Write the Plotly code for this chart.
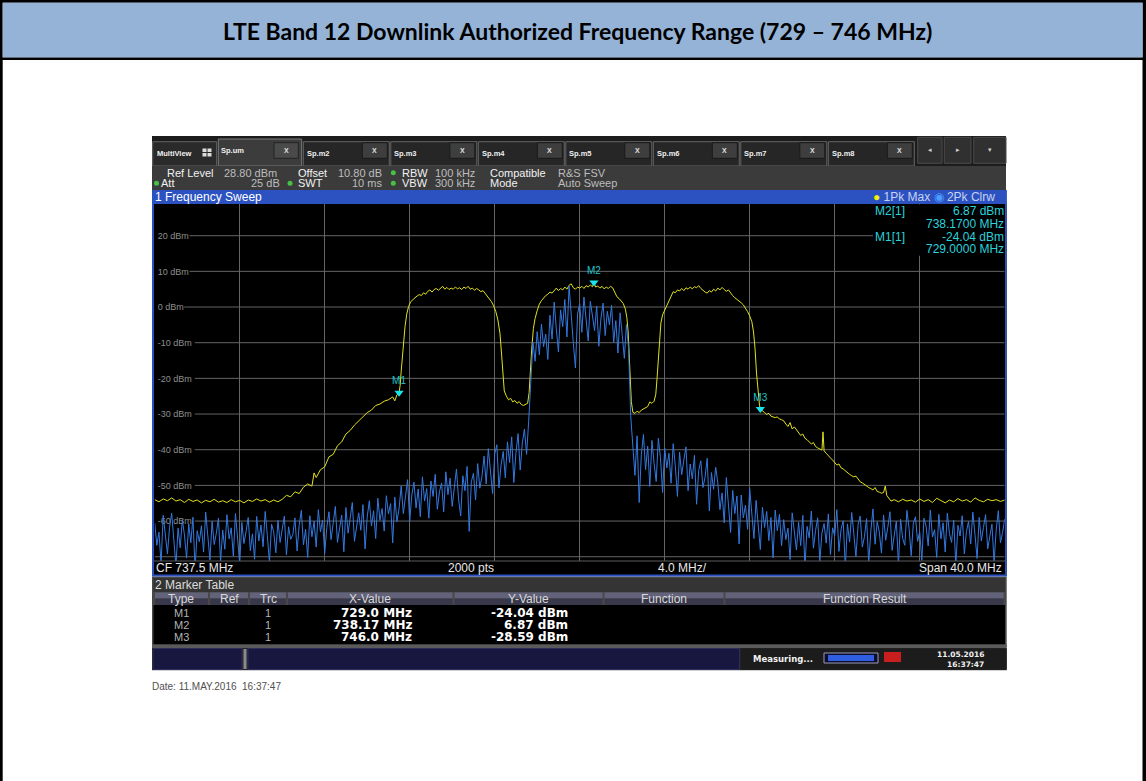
"""
LTE Band 12 downlink - spectrum analyzer screen rebuilt with Plotly.

Two traces from the R&S FSV screenshot:
  - 1Pk Max  (yellow, max hold)
  - 2Pk Clrw (blue, clear/write)
plus the three markers, the marker table and the analyzer chrome.
"""

import plotly.graph_objects as go

# ===================================================================
# Data
# ===================================================================

CENTER_MHZ = 737.5
SPAN_MHZ = 40.0
REF_LEVEL_DBM = 28.8
RANGE_DB = 100.0
SWEEP_POINTS = 2000

# trace 1 - 1Pk Max (yellow)
MAX_FREQ = [
    717.5, 717.7, 717.9, 718.1, 718.3, 718.5, 718.7, 718.9, 719.1, 719.3,
    719.5, 719.7, 719.9, 720.1, 720.3, 720.5, 720.7, 720.9, 721.1, 721.3,
    721.5, 721.7, 721.9, 722.1, 722.3, 722.5, 722.7, 722.9, 723.1, 723.3,
    723.5, 723.7, 723.9, 724.1, 724.3, 724.5, 724.7, 724.9, 725.0, 725.1,
    725.3, 725.5, 725.7, 725.9, 726.1, 726.3, 726.5, 726.7, 726.9, 727.1,
    727.3, 727.5, 727.7, 727.9, 728.1, 728.3, 728.5, 728.7, 728.8, 728.9,
    729.0, 729.05, 729.1, 729.2, 729.28, 729.36, 729.45, 729.55, 729.65, 729.75,
    729.85, 729.95, 730.05, 730.15, 730.25, 730.35, 730.45, 730.55, 730.65, 730.75,
    730.85, 730.95, 731.05, 731.15, 731.25, 731.35, 731.45, 731.55, 731.65, 731.75,
    731.85, 731.95, 732.05, 732.15, 732.25, 732.35, 732.45, 732.55, 732.65, 732.75,
    732.85, 732.95, 733.05, 733.15, 733.25, 733.35, 733.45, 733.55, 733.65, 733.75,
    733.82, 733.88, 733.95, 734.05, 734.15, 734.25, 734.35, 734.45, 734.55, 734.65,
    734.75, 734.85, 734.95, 735.05, 735.12, 735.18, 735.24, 735.32, 735.4, 735.5,
    735.6, 735.7, 735.8, 735.9, 736.0, 736.1, 736.2, 736.3, 736.4, 736.5,
    736.6, 736.7, 736.8, 736.9, 737.0, 737.1, 737.2, 737.3, 737.4, 737.5,
    737.6, 737.7, 737.8, 737.9, 738.0, 738.1, 738.17, 738.25, 738.35, 738.45,
    738.55, 738.65, 738.75, 738.85, 738.95, 739.05, 739.15, 739.25, 739.35, 739.45,
    739.55, 739.65, 739.72, 739.78, 739.83, 739.88, 739.93, 740.0, 740.1, 740.2,
    740.3, 740.4, 740.5, 740.6, 740.7, 740.8, 740.9, 741.0, 741.08, 741.14,
    741.2, 741.26, 741.32, 741.4, 741.5, 741.6, 741.7, 741.8, 741.9, 742.0,
    742.1, 742.2, 742.3, 742.4, 742.5, 742.6, 742.7, 742.8, 742.9, 743.0,
    743.1, 743.2, 743.3, 743.4, 743.5, 743.6, 743.7, 743.8, 743.9, 744.0,
    744.1, 744.2, 744.3, 744.4, 744.5, 744.6, 744.7, 744.8, 744.9, 745.0,
    745.1, 745.2, 745.3, 745.4, 745.5, 745.6, 745.68, 745.75, 745.82, 745.9,
    745.96, 746.0, 746.1, 746.2, 746.3, 746.4, 746.5, 746.6, 746.7, 746.8,
    746.9, 747.0, 747.1, 747.2, 747.3, 747.4, 747.5, 747.6, 747.7, 747.8,
    747.9, 748.0, 748.1, 748.2, 748.3, 748.4, 748.5, 748.6, 748.7, 748.8,
    748.9, 748.95, 749.0, 749.1, 749.2, 749.3, 749.4, 749.5, 749.6, 749.7,
    749.8, 749.9, 750.0, 750.1, 750.2, 750.3, 750.4, 750.5, 750.6, 750.7,
    750.8, 750.9, 751.0, 751.1, 751.2, 751.3, 751.4, 751.5, 751.6, 751.7,
    751.8, 751.88, 751.95, 752.05, 752.15, 752.3, 752.5, 752.7, 752.9, 753.1,
    753.3, 753.5, 753.7, 753.9, 754.1, 754.3, 754.5, 754.7, 754.9, 755.1,
    755.3, 755.5, 755.7, 755.9, 756.1, 756.3, 756.5, 756.7, 756.9, 757.1,
    757.3, 757.5,
]
MAX_LEVEL = [
    -54.0, -54.6, -53.8, -54.3, -53.5, -54.4, -54.0, -54.8, -53.9, -54.5,
    -54.1, -54.9, -54.2, -54.6, -53.9, -54.7, -54.3, -54.8, -54.0, -54.6,
    -54.2, -54.9, -54.1, -54.5, -53.8, -54.4, -54.0, -54.7, -54.1, -54.6,
    -53.9, -52.8, -53.2, -51.8, -52.3, -50.5, -49.6, -50.2, -46.5, -47.8,
    -45.6, -44.8, -42.0, -41.3, -38.9, -37.8, -35.6, -34.6, -33.1, -32.0,
    -30.8, -29.6, -28.9, -27.6, -27.2, -26.4, -26.0, -25.2, -26.3, -24.6,
    -24.04, -22.0, -18.0, -10.0, -5.5, -2.0, 0.2, 1.5, 2.2, 2.6,
    3.1, 3.5, 3.2, 4.0, 3.6, 4.4, 4.8, 4.2, 4.9, 5.2,
    4.7, 5.4, 5.8, 5.0, 5.5, 4.9, 5.3, 5.0, 5.6, 5.1,
    5.4, 4.9, 5.6, 5.2, 5.8, 5.0, 5.3, 4.7, 5.2, 4.8,
    4.3, 4.6, 3.8, 3.0, 2.2, 1.5, 0.3, -1.2, -3.6, -7.5,
    -12.9, -19.0, -23.5, -25.0, -26.0, -25.6, -26.6, -26.2, -27.0, -26.5,
    -27.3, -27.6, -27.4, -27.0, -24.0, -17.0, -12.0, -6.0, -3.2, -1.0,
    0.8, 1.8, 2.6, 3.2, 3.6, 4.2, 3.9, 4.7, 5.3, 4.6,
    5.2, 4.8, 5.6, 5.0, 6.1, 6.5, 5.4, 5.0, 5.6, 5.3,
    5.8, 5.2, 6.0, 5.6, 6.2, 5.7, 6.87, 5.6, 5.9, 5.3,
    5.8, 5.1, 5.6, 5.2, 5.8, 5.4, 4.2, 2.9, 2.4, 1.6,
    1.0, -0.6, -3.0, -7.0, -13.0, -21.0, -26.5, -29.5, -29.8, -29.2,
    -29.6, -28.9, -28.6, -28.2, -27.9, -26.6, -27.0, -26.4, -24.5, -20.0,
    -15.0, -9.0, -4.5, -2.2, -0.9, 0.1, 1.8, 3.1, 4.3, 4.0,
    4.8, 4.5, 5.2, 4.6, 5.4, 5.0, 5.6, 5.1, 5.7, 5.4,
    6.0, 5.2, 4.6, 4.2, 3.9, 4.6, 4.2, 5.0, 4.5, 5.3,
    4.8, 5.5, 4.9, 4.4, 4.8, 3.9, 3.2, 2.6, 2.2, 1.6,
    1.2, 0.6, -0.2, -1.3, -2.5, -4.1, -7.0, -11.5, -18.5, -24.5,
    -27.5, -28.59, -29.2, -29.6, -30.1, -29.8, -30.6, -30.7, -31.0, -30.8,
    -31.4, -31.6, -31.9, -32.8, -33.5, -32.4, -34.2, -33.6, -34.5, -35.3,
    -36.0, -35.6, -36.8, -37.2, -37.8, -38.4, -38.0, -39.1, -39.5, -39.9,
    -40.1, -35.0, -40.3, -41.0, -41.8, -42.3, -42.9, -43.5, -44.3, -44.0,
    -45.1, -45.4, -46.0, -46.3, -46.9, -47.3, -47.6, -47.4, -48.4, -49.0,
    -49.3, -49.8, -50.2, -50.6, -50.9, -51.3, -50.6, -51.7, -51.9, -52.2,
    -52.0, -50.2, -52.8, -53.6, -54.4, -54.0, -54.6, -53.9, -54.4, -54.1,
    -54.7, -53.8, -54.5, -54.0, -54.8, -53.6, -54.3, -54.9, -54.1, -54.6,
    -53.7, -54.4, -54.0, -54.7, -53.5, -54.2, -54.6, -53.9, -54.3, -54.0,
    -54.5, -54.1,
]

# trace 2 - 2Pk Clrw (blue), one reading every 0.1 MHz from the left edge
CLRW_STEP_MHZ = 0.1
CLRW_LEVEL = [
    # noise floor 717.5 - 723.9
    -60.5, -66.8, -63.1, -71.9, -58.4, -64.6, -69.2, -61.7, -57.8, -65.3,
    -72.6, -62.0, -67.5, -59.6, -63.9, -70.4, -60.8, -66.1, -58.9, -73.5,
    -62.7, -65.8, -61.3, -68.7, -57.5, -64.2, -70.9, -60.1, -66.6, -63.4,
    -59.2, -71.4, -62.5, -67.9, -58.2, -65.0, -61.9, -69.8, -57.9, -64.8,
    -72.0, -60.4, -66.3, -62.9, -59.0, -68.3, -63.6, -70.7, -58.7, -65.6,
    -61.1, -67.2, -57.3, -64.0, -71.6, -60.9, -63.0, -68.9, -59.8, -66.0,
    -62.2, -58.6, -69.5, -61.6, -65.1,
    # slow rise 724.0 - 729.0
    -63.8, -59.1, -68.4, -61.2, -57.0, -66.7, -62.3, -70.2, -58.5, -64.4,
    -60.0, -67.3, -56.8, -63.0, -59.7, -69.1, -61.8, -57.4, -65.2, -60.6,
    -55.9, -66.0, -62.1, -58.3, -68.6, -56.2, -63.4, -59.5, -54.8, -65.7,
    -60.9, -57.7, -62.6, -55.4, -67.8, -58.9, -54.3, -61.4, -57.1, -64.9,
    -53.6, -59.8, -56.5, -62.8, -52.9, -58.0, -55.1, -66.1, -53.3, -60.2,
    -56.4,
    # lower skirt 729.1 - 735.1
    -50.2, -57.9, -53.6, -48.4, -60.1, -52.7, -49.1, -56.3, -51.0, -58.8,
    -47.6, -54.4, -50.9, -59.2, -48.8, -53.1, -46.9, -56.7, -51.8, -49.3,
    -57.4, -46.2, -52.6, -48.0, -55.9, -50.4, -45.4, -53.8, -58.6, -47.3,
    -51.5, -44.7, -62.9, -49.0, -46.6, -54.1, -43.9, -50.8, -47.5, -41.8,
    -49.6, -39.7, -46.0, -52.3, -41.2, -38.6, -50.7, -44.3, -40.5, -47.9,
    -37.8, -43.6, -36.4, -49.2, -40.9, -35.5, -45.7, -38.1, -34.2, -41.3,
    -32.0,
    # occupied channel 735.2 - 739.8
    -19.5, -9.8, -15.2, -6.9, -13.4, -4.8, -11.1, -7.6, -14.7, -2.3,
    -9.0, 1.4, -6.2, -12.6, -0.8, -5.5, 2.1, -8.4, 5.9, -3.7,
    -10.2, -17.1, -1.9, 0.9, -7.1, 2.8, -4.4, -9.5, 1.6, -2.8,
    -6.6, 0.3, -11.0, -3.1, 1.1, -8.0, -1.2, -5.0, 0.5, -9.9,
    -3.8, -12.9, -1.6, -7.7, -14.4, -4.9, -11.6,
    # upper skirt 739.9 - 743.9
    -30.5, -38.9, -47.2, -36.1, -54.8, -41.4, -35.7, -45.6, -39.0, -50.3,
    -37.4, -43.8, -48.9, -36.8, -42.2, -52.0, -39.5, -45.1, -41.0, -49.4,
    -38.3, -44.6, -53.1, -40.7, -47.0, -42.9, -39.2, -51.5, -44.0, -48.2,
    -41.6, -55.3, -45.8, -43.1, -50.6, -47.7, -42.4, -57.2, -46.4, -51.1,
    -44.9,
    # fall 744.0 - 747.0
    -49.3, -56.8, -52.1, -60.5, -47.8, -54.6, -63.2, -51.4, -57.9, -53.0,
    -66.4, -52.7, -59.1, -55.5, -62.3, -50.9, -58.4, -64.9, -54.2, -60.7,
    -68.0, -56.1, -61.8, -57.3, -65.5, -59.0, -70.3, -56.9, -62.7, -58.1,
    -66.9,
    # noise floor 747.1 - 757.5
    -59.6, -65.2, -62.0, -70.8, -57.7, -63.9, -68.1, -60.3, -66.9, -58.4,
    -72.9, -61.5, -64.7, -57.2, -67.6, -62.6, -59.1, -71.3, -63.3, -60.7,
    -66.2, -58.0, -69.4, -61.9, -64.1, -56.8, -68.5, -62.3, -59.9, -73.1,
    -60.8, -65.9, -57.6, -63.6, -70.0, -61.0, -58.6, -67.3, -64.4, -59.3,
    -71.8, -62.8, -56.6, -66.5, -60.2, -63.1, -69.0, -58.3, -65.4, -61.7,
    -57.4, -68.2, -63.8, -60.0, -72.2, -59.5, -64.9, -66.8, -57.0, -62.1,
    -69.7, -60.6, -58.8, -65.7, -63.0, -71.0, -59.2, -61.4, -67.0, -56.9,
    -64.5, -62.4, -70.2, -58.1, -65.0, -60.5, -68.7, -57.8, -63.5, -66.0,
    -59.7, -72.4, -61.2, -64.2, -58.5, -69.2, -62.9, -60.1, -66.4, -57.5,
    -63.7, -70.5, -59.0, -65.6, -61.8, -58.2, -67.8, -64.6, -60.9, -71.5,
    -62.5, -57.1, -66.1, -63.2, -59.4,
]

MARKER_NAMES = ["M1", "M2", "M3"]
MARKER_FREQ = [729.0, 738.17, 746.0]
MARKER_LEVEL = [-24.04, 6.87, -28.59]

GRID_DBM = [20, 10, 0, -10, -20, -30, -40, -50, -60, -70]
GRID_LABELS = ["20 dBm", "10 dBm", "0 dBm", "-10 dBm", "-20 dBm",
               "-30 dBm", "-40 dBm", "-50 dBm", "-60 dBm", ""]

TAB_NAMES = ["Sp.m2", "Sp.m3", "Sp.m4", "Sp.m5", "Sp.m6", "Sp.m7", "Sp.m8"]
TABLE_COLUMNS = ["Type", "Ref", "Trc", "X-Value", "Y-Value", "Function", "Function Result"]

# ===================================================================
# Page helpers (pixel coordinates of the 1146 x 781 page)
# ===================================================================

W, H = 1146, 781
UI = "Liberation Sans"
UIB = "DejaVu Sans"

shapes = []
notes = []


def px(x):
    return x / W


def py(y):
    return 1 - y / H


def box(x0, y0, x1, y1, fill, line=None, width=0, layer="below"):
    shapes.append(dict(type="rect", xref="paper", yref="paper",
                       x0=px(x0), x1=px(x1), y0=py(y1), y1=py(y0),
                       fillcolor=fill, layer=layer,
                       line=dict(color=line or fill, width=width)))


def dot(x, y, r, fill):
    shapes.append(dict(type="circle", xref="paper", yref="paper",
                       x0=px(x - r), x1=px(x + r), y0=py(y + r), y1=py(y - r),
                       fillcolor=fill, line=dict(width=0), layer="below"))


def label(x, y, s, size=11, color="#e0e0e0", anchor="left", family=UI):
    notes.append(dict(xref="paper", yref="paper", x=px(x), y=py(y), text=s,
                      showarrow=False, xanchor=anchor, yanchor="middle",
                      borderpad=0, borderwidth=0,
                      font=dict(size=size, color=color, family=family)))


def fmt_freq(v):
    s = f"{v:.2f}"
    return s[:-1] if s.endswith("0") else s


# ===================================================================
# Document frame + title band
# ===================================================================

box(0, 0, 2.7, H, "black")
box(1142.5, 0, W, H, "black")
box(0, 0, W, 2.7, "black")
box(2.7, 2.7, 1142.5, 57.5, "#95b3d7")
box(0, 57.5, W, 60, "black")
label(577, 31.5, "<b>LTE Band 12 Downlink Authorized Frequency Range (729 \u2013 746 MHz)</b>",
      23, "#000000", "center", "Lato")

# ===================================================================
# Analyzer chrome: tabs, settings, title bar
# ===================================================================

box(152, 136, 1006, 166, "#1c1c1c")
box(152.7, 141.7, 216.7, 166, "#2a2a2a", "#666666", 1)
label(157, 153, "<b>MultiView</b>", 7.5, "#f0f0f0")
for ix, iy in [(202.5, 148.5), (207.5, 148.5), (202.5, 153), (207.5, 153)]:
    box(ix, iy, ix + 4, iy + 3.5, "#dddddd")

box(218.3, 139, 301.7, 166, "#3c3c3c", "#7a7a7a", 1)
label(221, 150.7, "<b>Sp.um</b>", 7.5, "#f0f0f0")
box(274, 142.7, 298.3, 158.3, "#4a4a4a", "#222222", 1)
label(286.2, 150.5, "<b>X</b>", 7, "#e0e0e0", "center")

for k, name in enumerate(TAB_NAMES):
    x0 = 303.3 + 87.5 * k
    box(x0, 141.7, x0 + 86, 166, "#262626", "#666666", 1)
    label(x0 + 3.5, 153.3, f"<b>{name}</b>", 7.5, "#f0f0f0")
    box(x0 + 59, 142.7, x0 + 84, 158.3, "#3e3e3e", "#1a1a1a", 1)
    label(x0 + 71.5, 150.5, "<b>X</b>", 7, "#e0e0e0", "center")

for (bx0, bx1), glyph in zip([(917.7, 942), (944.3, 971), (973.7, 1006)], ["\u25c2", "\u25b8", "\u25be"]):
    box(bx0, 137.3, bx1, 163.3, "#303030", "#4a4a4a", 1)
    label((bx0 + bx1) / 2, 150.3, glyph, 7, "#d0d0d0", "center", UIB)

box(152, 166, 1006, 190, "#3b3b3b")
r1, r2 = 172.7, 183.3
label(167.3, r1, "Ref Level", 11, "#f2f2f2")
label(224, r1, f"{REF_LEVEL_DBM:.2f} dBm", 11, "#bdbdbd")
label(298.3, r1, "Offset", 11, "#f2f2f2")
label(338.3, r1, "10.80 dB", 11, "#bdbdbd")
dot(393.3, r1, 2.5, "#46c046")
label(401.7, r1, "RBW", 11, "#f2f2f2")
label(434.5, r1, "100 kHz", 11, "#bdbdbd")
label(490, r1, "Compatible", 11, "#f2f2f2")
label(558, r1, "R&amp;S FSV", 11, "#bdbdbd")
dot(156.5, r2, 2.5, "#46c046")
label(161, r2, "Att", 11, "#f2f2f2")
label(280, r2, "25 dB", 11, "#bdbdbd", "right")
dot(290, r2, 2.5, "#46c046")
label(297.7, r2, "SWT", 11, "#f2f2f2")
label(381.7, r2, "10 ms", 11, "#bdbdbd", "right")
dot(393.3, r2, 2.5, "#46c046")
label(401.7, r2, "VBW", 11, "#f2f2f2")
label(434.5, r2, "300 kHz", 11, "#bdbdbd")
label(490, r2, "Mode", 11, "#f2f2f2")
label(558, r2, "Auto Sweep", 11, "#bdbdbd")

box(152, 190, 1006.7, 204, "#2b52c0")
label(155, 197, "1 Frequency Sweep", 12, "#ffffff")
label(995, 197,
      "<span style='color:#f2f200'>\u25cf</span> 1Pk Max "
      "<span style='color:#4d9cff'>\u25c9</span> 2Pk Clrw",
      12, "#c8d2f0", "right")

# black diagram window with its blue frame
box(152, 204, 1006.7, 576, "#000000")
box(152, 190, 154, 576, "#2b52c0", layer="above")
box(1005, 190, 1006.7, 576, "#2b52c0", layer="above")
box(152, 574.5, 1006.7, 576.5, "#2b52c0", layer="above")
box(154, 560.5, 1005, 561.5, "#5a5a5a", layer="above")

label(156, 568, f"CF {CENTER_MHZ} MHz", 12, "#e8e8e8")
label(448.3, 568, f"{SWEEP_POINTS} pts", 12, "#e8e8e8")
label(657.7, 568, f"{SPAN_MHZ / 10:.1f} MHz/", 12, "#e8e8e8")
label(1001.5, 568, f"Span {SPAN_MHZ:.1f} MHz", 12, "#e8e8e8", "right")

# ===================================================================
# Marker readout (top right of the diagram)
# ===================================================================

box(873, 204.5, 1004.7, 255.7, "#000000", layer="above")
cyan = "#2ad2dc"
for row, m in enumerate([1, 0]):
    yy = 211 + 25.5 * row
    label(875, yy, f"{MARKER_NAMES[m]}[1]", 12, cyan)
    label(1004, yy, f"{MARKER_LEVEL[m]:.2f} dBm", 12, cyan, "right")
    label(1004, yy + 12.5, f"{MARKER_FREQ[m]:.4f} MHz", 12, cyan, "right")

# ===================================================================
# Marker table
# ===================================================================

box(152, 576.5, 1006.7, 647, "#484848")
box(153.5, 578, 1005, 592, "#343434")
label(155, 585, "2 Marker Table", 12, "#dcdcdc")
col_edges = [(155, 208), (210, 248), (250, 286), (288, 452.5),
             (454.5, 602.5), (604.5, 723.5), (725.5, 1003.5)]
for (c0, c1), name in zip(col_edges, TABLE_COLUMNS):
    box(c0, 592.5, c1, 598.5, "#62627a")
    box(c0, 598.5, c1, 605, "#38384a")
    label((c0 + c1) / 2, 598.8, name, 12, "#d8d8d8", "center")
box(153.5, 605, 1005, 644.5, "#000000")
for k, name in enumerate(MARKER_NAMES):
    yy = 613.3 + 11.7 * k
    label(181.5, yy, name, 11, "#b4b4b4", "center")
    label(268.3, yy, "1", 11, "#b4b4b4", "center")
    label(411.7, yy, f"<b>{fmt_freq(MARKER_FREQ[k])} MHz</b>", 12, "#ffffff", "right", UIB)
    label(568.3, yy, f"<b>{MARKER_LEVEL[k]:.2f} dBm</b>", 12, "#ffffff", "right", UIB)

# ===================================================================
# Status bar + capture date
# ===================================================================

box(152, 644.5, 1006.7, 648, "#5a5a5a")
box(152, 648, 1006.7, 670, "#262626")
box(153, 648.5, 242, 669.5, "#17173f", "#2e2e5c", 1)
box(243.5, 649, 246.5, 669, "#8a8a8a")
box(248, 648.5, 739.5, 669.5, "#17173f", "#2e2e5c", 1)
box(740.5, 648.5, 1006.7, 669.5, "#1c1c1c")
label(752.7, 659.3, "<b>Measuring...</b>", 8.5, "#f0f0f0", family=UIB)
box(824, 653, 878, 663, "#0c0c2c", "#9a9abc", 1)
box(828, 655, 874, 661, "#2f5fe0")
box(884, 652, 901, 662, "#c81e1e")
label(983.5, 654, "<b>11.05.2016</b>", 7.5, "#f0f0f0", "right", UIB)
label(983.5, 664, "<b>16:37:47</b>", 7.5, "#f0f0f0", "right", UIB)
box(152, 670, 1006.7, 671, "#d0d0d0")

label(151.7, 686.7, "Date: 11.MAY.2016\u00a0 16:37:47", 10, "#505050")

# ===================================================================
# Diagram: grid + traces
# ===================================================================

f_lo = CENTER_MHZ - SPAN_MHZ / 2
f_hi = CENTER_MHZ + SPAN_MHZ / 2
mhz_per_px = SPAN_MHZ / 850.0
clrw_freq = [f_lo + CLRW_STEP_MHZ * i for i in range(len(CLRW_LEVEL))]
v_grid = [f_lo + SPAN_MHZ / 10 * k for k in range(1, 10)]

# horizontal grid lines start right after their level label
for lvl, txt in zip(GRID_DBM, GRID_LABELS):
    start = f_lo + ((3.0 + 5.3 * len(txt)) * mhz_per_px if txt else 0)
    shapes.append(dict(type="line", xref="x", yref="y", x0=start, x1=f_hi,
                       y0=lvl, y1=lvl, layer="below",
                       line=dict(color="#646464", width=1)))

fig = go.Figure()

fig.add_trace(go.Scatter(
    x=MAX_FREQ, y=MAX_LEVEL, mode="lines", name="1Pk Max",
    line=dict(color="#e2e21c", width=1), hoverinfo="skip",
))
fig.add_trace(go.Scatter(
    x=clrw_freq, y=CLRW_LEVEL, mode="lines", name="2Pk Clrw",
    line=dict(color="#3479e0", width=1), hoverinfo="skip",
))
fig.add_trace(go.Scatter(
    x=MARKER_FREQ, y=MARKER_LEVEL, mode="markers+text", name="markers",
    text=MARKER_NAMES, textposition="top center",
    textfont=dict(size=10, color="#22c4cc", family=UI),
    marker=dict(symbol="triangle-down", size=8, color="#18e4ec"),
    hoverinfo="skip", cliponaxis=False,
))

fig.update_layout(
    width=W, height=H,
    margin=dict(l=0, r=0, t=0, b=0),
    paper_bgcolor="#ffffff",
    plot_bgcolor="rgba(0,0,0,0)",
    showlegend=False,
    font=dict(family=UI),
    shapes=shapes,
    annotations=notes,
    xaxis=dict(
        domain=[px(154.7), px(1004.7)],
        range=[f_lo, f_hi],
        tickvals=v_grid, showticklabels=False, ticks="",
        showgrid=True, gridcolor="#646464", gridwidth=1,
        zeroline=False, showline=False, fixedrange=True,
    ),
    yaxis=dict(
        domain=[py(561), py(204.3)],
        range=[REF_LEVEL_DBM - RANGE_DB, REF_LEVEL_DBM],
        tickvals=GRID_DBM, ticktext=GRID_LABELS,
        ticklabelposition="inside", ticks="", layer="below traces",
        tickfont=dict(size=9, color="#8e8e8e", family=UI),
        showgrid=False, zeroline=False, showline=False, fixedrange=True,
    ),
)

# page body has a default 8px margin; drop it so the figure sits at 0,0
fig.write_html("out.html", config={"displayModeBar": False},
               post_script="document.body.style.margin='0';")
